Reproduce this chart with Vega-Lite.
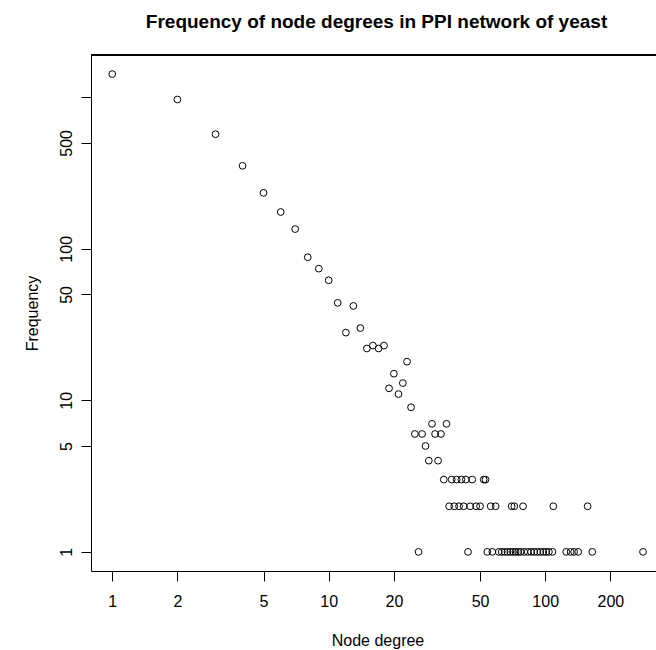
{
  "$schema": "https://vega.github.io/schema/vega-lite/v6.json",
  "width": 565,
  "height": 516,
  "autosize": {"type": "none"},
  "padding": {"left": 91, "top": 55, "right": 0, "bottom": 79},
  "background": "white",
  "config": {
    "font": "Liberation Sans",
    "view": {"stroke": null},
    "axis": {
      "grid": false,
      "domainColor": "black",
      "tickColor": "black",
      "labelColor": "black",
      "titleColor": "black",
      "labelFontSize": 16,
      "titleFontSize": 16,
      "titleFontWeight": "normal",
      "tickSize": 10,
      "labelFlush": false,
      "labelOverlap": false
    }
  },
  "title": {
    "text": "Frequency of node degrees in PPI network of yeast",
    "fontSize": 19,
    "fontWeight": "bold",
    "color": "black",
    "anchor": "middle",
    "frame": "group",
    "baseline": "alphabetic",
    "offset": 8,
    "dx": 3
  },
  "data": {
    "values": [
      {"degree": 1, "freq": 1423}, {"degree": 2, "freq": 967}, {"degree": 3, "freq": 571},
      {"degree": 4, "freq": 353}, {"degree": 5, "freq": 234}, {"degree": 6, "freq": 175},
      {"degree": 7, "freq": 135}, {"degree": 8, "freq": 88}, {"degree": 9, "freq": 74},
      {"degree": 10, "freq": 62}, {"degree": 11, "freq": 44}, {"degree": 12, "freq": 28},
      {"degree": 13, "freq": 42}, {"degree": 14, "freq": 30}, {"degree": 15, "freq": 22},
      {"degree": 16, "freq": 23}, {"degree": 17, "freq": 22}, {"degree": 18, "freq": 23},
      {"degree": 19, "freq": 12}, {"degree": 20, "freq": 15}, {"degree": 21, "freq": 11},
      {"degree": 22, "freq": 13}, {"degree": 23, "freq": 18}, {"degree": 24, "freq": 9},
      {"degree": 25, "freq": 6}, {"degree": 26, "freq": 1}, {"degree": 27, "freq": 6},
      {"degree": 28, "freq": 5}, {"degree": 29, "freq": 4}, {"degree": 30, "freq": 7},
      {"degree": 31, "freq": 6}, {"degree": 32, "freq": 4}, {"degree": 33, "freq": 6},
      {"degree": 34, "freq": 3}, {"degree": 35, "freq": 7}, {"degree": 36, "freq": 2},
      {"degree": 37, "freq": 3}, {"degree": 38, "freq": 2}, {"degree": 39, "freq": 3},
      {"degree": 40, "freq": 2}, {"degree": 41, "freq": 3}, {"degree": 42, "freq": 2},
      {"degree": 43, "freq": 3}, {"degree": 44, "freq": 1}, {"degree": 45, "freq": 2},
      {"degree": 46, "freq": 3}, {"degree": 48, "freq": 2}, {"degree": 50, "freq": 2},
      {"degree": 52, "freq": 3}, {"degree": 53, "freq": 3}, {"degree": 54, "freq": 1},
      {"degree": 56, "freq": 2}, {"degree": 57, "freq": 1}, {"degree": 59, "freq": 2},
      {"degree": 61, "freq": 1}, {"degree": 63, "freq": 1}, {"degree": 65, "freq": 1},
      {"degree": 67, "freq": 1}, {"degree": 69, "freq": 1}, {"degree": 70, "freq": 2},
      {"degree": 71, "freq": 1}, {"degree": 72, "freq": 2}, {"degree": 73, "freq": 1},
      {"degree": 75, "freq": 1}, {"degree": 77, "freq": 1}, {"degree": 79, "freq": 2},
      {"degree": 80, "freq": 1}, {"degree": 83, "freq": 1}, {"degree": 86, "freq": 1},
      {"degree": 89, "freq": 1}, {"degree": 92, "freq": 1}, {"degree": 95, "freq": 1},
      {"degree": 98, "freq": 1}, {"degree": 101, "freq": 1}, {"degree": 104, "freq": 1},
      {"degree": 108, "freq": 1}, {"degree": 109, "freq": 2}, {"degree": 125, "freq": 1},
      {"degree": 131, "freq": 1}, {"degree": 136, "freq": 1}, {"degree": 142, "freq": 1},
      {"degree": 157, "freq": 2}, {"degree": 165, "freq": 1}, {"degree": 283, "freq": 1}
    ]
  },
  "layer": [
    {
      "mark": {"type": "point", "shape": "circle", "filled": false, "color": "black", "strokeWidth": 1, "size": 46, "opacity": 1},
      "encoding": {
        "x": {
          "field": "degree", "type": "quantitative",
          "scale": {"type": "log", "domain": [0.798, 324.9], "nice": false, "zero": false},
          "axis": {
            "values": [1, 2, 5, 10, 20, 50, 100, 200],
            "format": "d",
            "labelPadding": 12,
            "title": "Node degree",
            "titleX": 286.5,
            "titleY": 74,
            "titleBaseline": "alphabetic",
            "titleAlign": "center"
          }
        },
        "y": {
          "field": "freq", "type": "quantitative",
          "scale": {"type": "log", "domain": [0.748, 1901.6], "nice": false, "zero": false},
          "axis": {
            "values": [1, 5, 10, 50, 100, 500, 1000],
            "format": "d",
            "labelExpr": "datum.value == 1000 ? '' : datum.label",
            "labelAngle": -90,
            "labelAlign": "center",
            "labelBaseline": "alphabetic",
            "labelPadding": 10,
            "title": "Frequency",
            "titleX": -54,
            "titleY": 258,
            "titleAngle": -90,
            "titleBaseline": "alphabetic",
            "titleAlign": "center"
          }
        }
      }
    },
    {
      "mark": {"type": "rule", "color": "black", "strokeWidth": 1},
      "encoding": {"y": {"datum": 1901.6, "type": "quantitative"}}
    }
  ]
}
